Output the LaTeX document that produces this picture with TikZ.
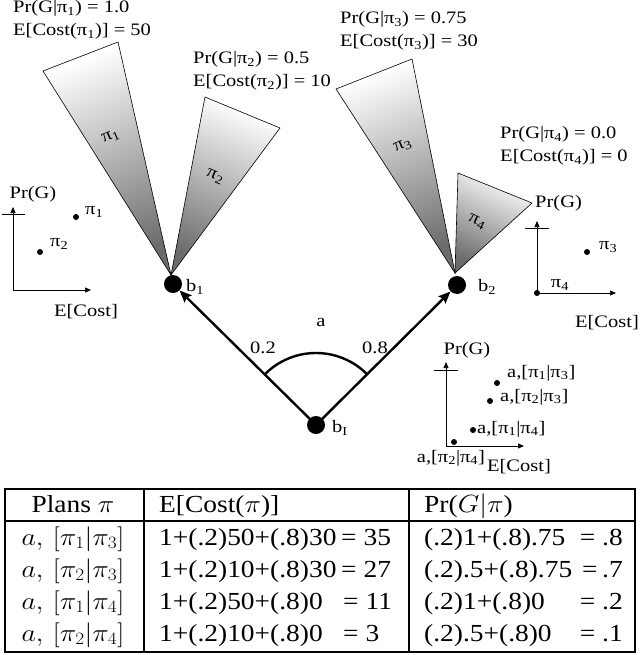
\documentclass[tikz,border=0pt]{standalone}
\usepackage{fontspec}
\setmainfont{Liberation Serif}
\usetikzlibrary{arrows.meta}
\newcommand{\pis}[1]{π\textsubscript{#1}}
\begin{document}
\begin{tikzpicture}[x=1pt,y=1pt,
  lbl/.style={inner sep=0pt, font=\fontsize{17.5}{23}\selectfont, xscale=1.17},
  wedge/.style={draw=black, line width=0.6pt, top color=white, bottom color=black!58},
  dot/.style={circle, fill=black, inner sep=0pt, minimum size=18pt},
  sdot/.style={circle, fill=black, inner sep=0pt, minimum size=6pt},
  axis/.style={line width=0.7pt, -{Triangle[length=6pt,width=5pt]}},
  tickline/.style={line width=0.7pt},
  mainarrow/.style={line width=2.4pt, -{Stealth[length=12pt,width=10pt,inset=2pt]}},
  tbl/.style={inner sep=0pt, font=\fontsize{24.5}{28}\selectfont, xscale=1.12},
  tline/.style={line width=2.2pt}
]
\useasboundingbox (0,0) rectangle (640,-655);

% wedges
\coordinate (a1) at (171,-275);
\coordinate (a2) at (455,-273);
\path[wedge, shading angle=22] (a1) -- (43,-71) -- (118,-42) -- cycle;
\path[wedge, shading angle=-23] (a1) -- (205,-97) -- (280,-128) -- cycle;
\path[wedge, shading angle=22] (a2) -- (336,-89) -- (412,-59) -- cycle;
\path[wedge, shading angle=-25] (a2) -- (458,-173) -- (532,-203) -- cycle;
\node[rotate=22, lbl] (w1) at (111,-137) {\pis{1}};
\node[rotate=-23, lbl] (w2) at (215,-177) {\pis{2}};
\node[rotate=22, lbl] (w3) at (403,-146) {\pis{3}};
\node[rotate=-25, lbl] (w4) at (477,-222) {\pis{4}};

% wedge value labels
\node[lbl, anchor=west, align=left] (v1) at (13,-20) {Pr(G|\pis{1}) = 1.0\\E[Cost(\pis{1})] = 50};
\node[lbl, anchor=west, align=left] (v2) at (193,-71) {Pr(G|\pis{2}) = 0.5\\E[Cost(\pis{2})] = 10};
\node[lbl, anchor=west, align=left] (v3) at (340,-31) {Pr(G|\pis{3}) = 0.75\\E[Cost(\pis{3})] = 30};
\node[lbl, anchor=west, align=left] (v4) at (500,-146) {Pr(G|\pis{4}) = 0.0\\E[Cost(\pis{4})] = 0};

% belief nodes
\node[dot] (b1) at (173,-284) {};
\node[dot] (b2) at (457,-285) {};
\node[dot] (bI) at (316,-425) {};
\node[lbl, anchor=west] (lb1) at (186,-287) {b\textsubscript{1}};
\node[lbl, anchor=west] (lb2) at (478,-287) {b\textsubscript{2}};
\node[lbl, anchor=west] (lbI) at (332,-428) {b\textsubscript{I}};

\draw[mainarrow] (bI.center) -- (b1);
\draw[mainarrow] (bI.center) -- (b2);
\draw[line width=2.4pt] (bI.center) ++(45:72) arc (45:135:72);
\node[lbl] (la) at (321,-322) {a};
\node[lbl] (l02) at (263,-348) {0.2};
\node[lbl] (l08) at (375,-348) {0.8};

% left plot
\coordinate (o1) at (13,-290);
\coordinate (y1) at (13,-207);
\coordinate (x1) at (91,-290);
\draw[axis] (o1) -- (y1);
\draw[axis] (o1) -- (x1);
\draw[tickline] (2,-214) -- (25,-214);
\node[lbl] (p1) at (33,-194) {Pr(G)};
\node[lbl] (e1) at (86,-312) {E[Cost]};
\node[sdot] (d11) at (76,-217) {};
\node[sdot] (d12) at (40,-252) {};
\node[lbl, anchor=west] at (85,-212) {\pis{1}};
\node[lbl, anchor=west] at (50,-244) {\pis{2}};

% right plot
\coordinate (o2) at (537,-293);
\coordinate (y2) at (537,-221);
\coordinate (x2) at (616,-293);
\draw[axis] (o2) -- (y2);
\draw[axis] (o2) -- (x2);
\draw[tickline] (525,-228) -- (549,-228);
\node[lbl, anchor=west] (p2) at (535,-203) {Pr(G)};
\node[lbl] (e2) at (607,-323) {E[Cost]};
\node[sdot] (d24) at (o2) {};
\node[sdot] (d23) at (587,-252) {};
\node[lbl] at (560,-285) {\pis{4}};
\node[lbl, anchor=west] at (599,-247) {\pis{3}};

% bottom plot
\coordinate (o3) at (446,-446);
\coordinate (y3) at (446,-362);
\coordinate (x3) at (524,-446);
\draw[axis] (o3) -- (y3);
\draw[axis] (o3) -- (x3);
\draw[tickline] (434,-370) -- (458,-370);
\node[lbl] (p3) at (467,-350) {Pr(G)};
\node[lbl] (e3) at (519,-467) {E[Cost]};
\node[sdot] (c1) at (497,-383) {};
\node[sdot] (c2) at (490,-401) {};
\node[sdot] (c3) at (473,-430) {};
\node[sdot] (c4) at (454,-442) {};
\node[lbl, anchor=west] at (507,-373) {a,[\pis{1}|\pis{3}]};
\node[lbl, anchor=west] at (500,-397) {a,[\pis{2}|\pis{3}]};
\node[lbl, anchor=west] at (477,-429) {a,[\pis{1}|\pis{4}]};
\node[lbl] at (451,-458) {a,[\pis{2}|\pis{4}]};

% table
\draw[tline] (5,-489) rectangle (635,-652);
\draw[tline] (5,-521) -- (635,-521);
\draw[tline] (144,-489) -- (144,-652);
\draw[tline] (409,-489) -- (409,-652);
\node[tbl, anchor=base] (h1) at (73,-512) {Plans $\pi$};
\node[tbl, anchor=base west] (h2) at (159,-512) {E[Cost($\pi$)]};
\node[tbl, anchor=base west] (h3) at (424,-512) {Pr($G|\pi$)};

\node[tbl, anchor=base] at (73,-545) {$a,\,[\pi_1|\pi_3]$};
\node[tbl, anchor=base] at (73,-577) {$a,\,[\pi_2|\pi_3]$};
\node[tbl, anchor=base] at (73,-609) {$a,\,[\pi_1|\pi_4]$};
\node[tbl, anchor=base] at (73,-641) {$a,\,[\pi_2|\pi_4]$};

\node[tbl, anchor=base west] at (159,-545) {1+(.2)50+(.8)30};
\node[tbl, anchor=base west] at (159,-577) {1+(.2)10+(.8)30};
\node[tbl, anchor=base west] at (159,-609) {1+(.2)50+(.8)0};
\node[tbl, anchor=base west] at (159,-641) {1+(.2)10+(.8)0};
\node[tbl, anchor=base west] at (341,-545) {= 35};
\node[tbl, anchor=base west] at (341,-577) {= 27};
\node[tbl, anchor=base west] at (343,-609) {= 11};
\node[tbl, anchor=base west] at (343,-641) {= 3};

\node[tbl, anchor=base west] at (424,-545) {(.2)1+(.8).75};
\node[tbl, anchor=base west] at (424,-577) {(.2).5+(.8).75};
\node[tbl, anchor=base west] at (424,-609) {(.2)1+(.8)0};
\node[tbl, anchor=base west] at (424,-641) {(.2).5+(.8)0};
\node[tbl, anchor=base east] at (623,-545) {= .8};
\node[tbl, anchor=base east] at (623,-577) {=\,.7};
\node[tbl, anchor=base east] at (623,-609) {= .2};
\node[tbl, anchor=base east] at (623,-641) {= .1};
\end{tikzpicture}
\end{document}
